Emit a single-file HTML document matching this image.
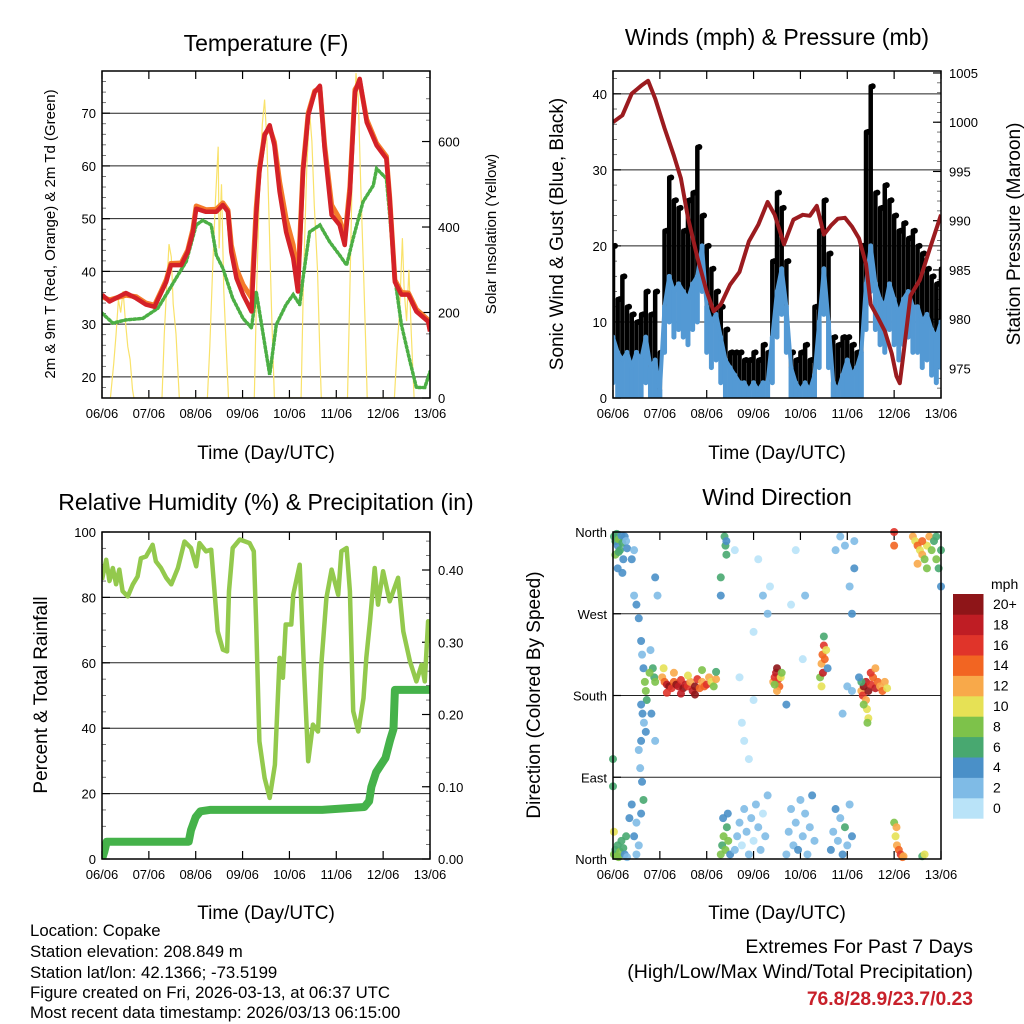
<!DOCTYPE html>
<html><head><meta charset="utf-8"><style>
html,body{margin:0;padding:0;background:#fff;}
svg{display:block;font-family:"Liberation Sans",Arial,sans-serif;}
</style></head><body>
<svg id="fig" width="1024" height="1024" viewBox="0 0 1024 1024" xmlns="http://www.w3.org/2000/svg">
<rect x="0" y="0" width="1024" height="1024" fill="#fff"/>
<text x="266" y="51" font-size="23" text-anchor="middle">Temperature (F)</text>
<text x="777" y="45" font-size="23" text-anchor="middle">Winds (mph) &amp; Pressure (mb)</text>
<text x="266" y="510" font-size="23" text-anchor="middle">Relative Humidity (%) &amp; Precipitation (in)</text>
<text x="777" y="505" font-size="23" text-anchor="middle">Wind Direction</text>
<text x="266" y="459" font-size="19" text-anchor="middle">Time (Day/UTC)</text>
<text x="777" y="459" font-size="19" text-anchor="middle">Time (Day/UTC)</text>
<text x="266" y="919" font-size="19" text-anchor="middle">Time (Day/UTC)</text>
<text x="777" y="919" font-size="19" text-anchor="middle">Time (Day/UTC)</text>
<text transform="translate(55,234) rotate(-90)" font-size="15" text-anchor="middle">2m &amp; 9m T (Red, Orange) &amp; 2m Td (Green)</text>
<text transform="translate(496,234) rotate(-90)" font-size="15" text-anchor="middle">Solar Insolation (Yellow)</text>
<text transform="translate(563,234) rotate(-90)" font-size="19" text-anchor="middle">Sonic Wind &amp; Gust (Blue, Black)</text>
<text transform="translate(1020,234) rotate(-90)" font-size="19" text-anchor="middle">Station Pressure (Maroon)</text>
<text transform="translate(47,695) rotate(-90)" font-size="19" text-anchor="middle">Percent &amp; Total Rainfall</text>
<text transform="translate(540,695) rotate(-90)" font-size="19" text-anchor="middle">Direction (Colored By Speed)</text>
<g font-size="16.8">
<text x="30" y="936">Location: Copake</text>
<text x="30" y="957">Station elevation: 208.849 m</text>
<text x="30" y="978">Station lat/lon: 42.1366; -73.5199</text>
<text x="30" y="998">Figure created on Fri, 2026-03-13, at 06:37 UTC</text>
<text x="30" y="1018">Most recent data timestamp: 2026/03/13 06:15:00</text>
</g>
<g text-anchor="end">
<text x="973" y="953" font-size="19.5">Extremes For Past 7 Days</text>
<text x="973" y="978" font-size="19.5">(High/Low/Max Wind/Total Precipitation)</text>
<text x="973" y="1005" font-size="19.3" fill="#c8202a" font-weight="bold">76.8/28.9/23.7/0.23</text>
</g>
</svg>
<script>
// ---------- data ----------
const dayLabels = ["06/06","07/06","08/06","09/06","10/06","11/06","12/06","13/06"];
const tempTimes = [0,0.16,0.51,0.73,0.94,1.12,1.26,1.37,1.47,1.69,1.83,1.94,2.01,2.22,2.44,2.58,2.69,2.76,2.87,3.01,3.19,3.29,3.36,3.47,3.58,3.68,3.79,3.93,4.08,4.18,4.29,4.40,4.54,4.65,4.75,4.90,5.07,5.18,5.29,5.40,5.50,5.65,5.86,6.07,6.14,6.25,6.39,6.54,6.71,6.96,7.0];
const tempRed = [35.6,34.3,35.9,34.9,33.7,33.3,35.9,38,41.2,41.2,43.7,47.5,51.9,51.3,51.3,52.6,51.3,43.7,38.7,35.6,32.4,50.7,58.9,65.8,67.7,63.9,55.1,47.5,42.5,36.2,58.9,69.6,74,75.2,63.3,50.7,48.8,45,55.1,74,76.5,68.3,63.9,61.4,53.8,38,35.6,35.6,32.4,30.5,28.6];
const tempOrange = [35.2,34.6,35.5,35.2,34,33.6,36.2,38.4,41.5,41.6,44,48,52.4,51.7,51.8,53,51.6,45,40.5,37.5,35,52,59.5,66,67.2,64.5,57,50,45,38,59.5,70,74.2,74.8,64,52.6,50,46,56,74.5,76,68.8,64.3,61.8,54,38.4,36,35.9,32.8,30.8,29];
const dewTimes = [0,0.23,0.51,0.87,1.19,1.37,1.58,1.8,2.01,2.15,2.33,2.44,2.58,2.79,3.01,3.19,3.29,3.43,3.58,3.72,3.93,4.08,4.22,4.29,4.43,4.65,4.86,5.07,5.22,5.36,5.57,5.79,5.86,6.07,6.14,6.25,6.39,6.57,6.71,6.89,7.0];
const dewGreen = [32.1,30.2,30.8,31.1,33,35.6,38.7,41.9,48.8,49.7,48.8,43.1,40.6,34.9,31.1,29.3,36.2,28.6,20.4,29.9,33.7,35.6,33.7,38.7,47.5,48.8,45.6,43.1,41.2,46.3,53.2,56.3,59.5,57.6,50.7,38.7,29.9,23,18,18,21];
const solarTimes = [0.18,0.25,0.3,0.35,0.4,0.45,0.5,0.55,0.6,0.65,0.68, 1.28,1.33,1.38,1.43,1.48,1.52,1.58,1.65, 2.25,2.3,2.36,2.42,2.48,2.5,2.55,2.6,2.65,2.7, 3.25,3.3,3.36,3.42,3.47,3.52,3.57,3.62,3.68, 4.25,4.3,4.37,4.43,4.48,4.53,4.6,4.65,4.68, 5.24,5.3,5.35,5.42,5.47,5.52,5.58,5.63,5.66, 6.24,6.3,6.35,6.41,6.45,6.5,6.55,6.6,6.66];
const solarValues = [0,80,150,230,200,250,180,120,90,20,0, 0,150,260,360,330,220,150,0, 0,120,300,460,588,350,500,250,120,0, 0,250,480,640,698,600,400,200,0, 0,280,540,670,600,450,300,100,0, 0,300,580,760,700,500,300,120,0, 0,120,200,374,250,180,300,150,0];

const windSpeed = [8,6,5,6,4,6,5,8,4,5,1, 12,16,14,15,14,13,15,16,20,12, 10,11,8,5,4,3,2,2,1,2, 1,2,2,8,14,17,12,4,2,1, 2,1,3,10,17,10,2,1,3,5, 3,4,6,15,20,15,13,12,15,13, 11,13,14,12,12,10,11,9,8,10];
const windGust = [20,13,16,12,11,10,11,14,11,14,6, 22,29,26,25,22,26,27,33,24,20, 17,14,12,9,6,6,6,5,5,6, 5,7,6,18,27,25,18,6,5,6, 7,5,12,22,26,19,8,7,8,8, 7,6,20,35,41,27,25,28,26,24, 22,23,21,22,20,19,17,16,15,17];
const presTimes = [0,0.2,0.4,0.6,0.75,0.9,1.1,1.3,1.45,1.6,1.8,2.0,2.15,2.3,2.5,2.7,2.9,3.1,3.3,3.45,3.65,3.85,4.05,4.2,4.35,4.5,4.65,4.8,4.95,5.1,5.25,5.4,5.5,5.65,5.8,5.95,6.05,6.12,6.2,6.35,6.55,6.75,7.0];
const presValues = [1000,1000.7,1002.9,1003.7,1004.2,1002.4,999.4,996.6,994.3,990.3,986.3,982.8,980.8,981.5,983.5,984.8,987.9,989.6,991.9,990.6,987.6,990.1,990.6,990.5,991.5,988.6,989.5,990.2,990.3,989.4,988.2,985.6,981.5,980.2,978.8,976.5,974.2,973.5,976.5,982.4,984,987,990.6];

const rhTimes = [0,0.09,0.16,0.23,0.3,0.37,0.44,0.55,0.66,0.76,0.83,0.94,1.08,1.15,1.26,1.37,1.48,1.62,1.76,1.9,2.01,2.08,2.22,2.33,2.4,2.47,2.58,2.67,2.71,2.79,2.94,3.15,3.24,3.29,3.36,3.47,3.58,3.69,3.79,3.86,3.92,4.04,4.08,4.22,4.3,4.4,4.5,4.61,4.68,4.79,4.9,5.04,5.11,5.22,5.29,5.36,5.47,5.58,5.64,5.72,5.82,5.89,6.0,6.14,6.32,6.43,6.57,6.71,6.82,6.89,6.96,7.0];
const rhValues = [85.4,91.5,85,89,84,88.5,81.9,80.3,84,86.4,92,92.5,96.1,91,89,86,84,89,97.1,95.1,89.5,96.6,94.1,94.6,81.9,69.6,64,63.5,81.9,95.1,97.7,96.6,94.1,71.7,36,24.8,18.7,28.8,61.5,55.4,71.7,71.7,80.8,90,61.5,29.9,41.1,39,59.4,79.8,88.5,80.8,94.1,95.1,81.9,45.2,39,49.2,61.5,72.7,89,77.8,88,78.8,86,69.6,60.5,54.3,59.4,54.3,72.7,66];
const rainTimes = [0,0.05,0.1,1.85,1.9,2.0,2.1,2.3,4.7,5.6,5.7,5.75,5.85,5.95,6.05,6.15,6.22,6.25,7.0];
const rainValues = [0,0.01,0.024,0.024,0.04,0.058,0.066,0.068,0.068,0.072,0.08,0.1,0.12,0.13,0.14,0.165,0.18,0.234,0.234];

const dirTimes = [0.02,0.05,0.08,0.1,0.12,0.15,0.18,0.2,0.22,0.25,0.28,0.05,0.12,0.3,0.1,0.2,
0.02,0.05,0.08,0.1,0.12,0.15,0.18,0.22,0.25,0.28,0.3,0.02,0.0,0.0,0.35,0.4,
0.45,0.5,0.55,0.6,0.62,0.65,0.68,0.7,0.72,0.6,0.63,0.66,0.7,0.6,0.55,0.58,0.62,0.65,0.6,0.5,0.45,0.55,0.5,0.8,0.85,0.88,0.9,0.78,0.82,0.9,0.95,0.9,0.4,0.45,
1.05,1.1,1.15,1.2,1.25,1.3,1.35,1.4,1.45,1.5,1.55,1.6,1.65,1.7,1.75,1.8,1.85,1.9,1.95,2.0,2.05,2.1,2.15,2.2,1.08,1.3,1.6,1.9,2.2,1.15,1.45,1.75,
2.3,2.33,2.36,2.4,2.43,2.46,2.5,2.35,2.45,2.38,2.4,2.42,2.3,2.3,2.42,
2.6,2.65,2.7,2.75,2.8,2.85,2.9,2.95,3.0,3.05,3.1,3.15,3.2,3.25,3.3,2.7,2.8,2.9,3.0,3.1,2.6,3.2,3.3,3.35,2.75,3.0,
3.42,3.45,3.48,3.5,3.53,3.55,3.58,3.6,3.5,3.45,
3.7,3.75,3.8,3.85,3.9,3.95,4.0,4.05,4.1,4.15,4.2,4.25,4.3,3.8,3.9,4.1,4.05,3.7,
4.42,4.45,4.47,4.5,4.48,4.52,4.55,4.45,4.5,4.58,
4.65,4.7,4.75,4.8,4.85,4.9,4.95,5.0,5.05,5.1,4.75,4.85,4.95,5.05,5.1,5.15,5.15,4.9,5.0,5.1,
5.3,5.33,5.35,5.4,5.45,5.5,5.55,5.6,5.65,5.7,5.75,5.8,5.85,5.4,5.42,5.45,5.43,5.35,5.5,5.6,5.3,5.25,
6.0,6.03,6.06,6.1,6.14,6.18,6.05,6.2,6.6,6.65,
6.4,6.45,6.5,6.55,6.6,6.65,6.7,6.75,6.8,6.85,6.9,6.95,7.0,6.5,6.6,6.7,6.9,7.0,6.0,6.0];
const dirDegrees = [355,350,358,345,352,340,356,348,330,355,350,335,338,342,320,315,
5,10,3,15,2,8,20,12,5,25,2,30,80,110,45,60,
290,280,265,240,225,210,195,185,175,170,160,150,140,130,120,100,85,65,50,40,25,15,5,230,210,200,195,205,160,130,290,310,330,340,
200,195,192,190,188,195,192,190,197,188,192,190,195,185,190,198,188,195,190,192,200,195,190,198,210,205,202,208,206,183,182,181,
5,15,25,10,35,20,5,45,50,355,345,335,310,290,350,
10,25,40,15,55,30,5,45,20,60,35,10,50,25,70,200,130,110,250,330,340,290,270,300,150,175,
195,200,205,210,198,190,200,205,185,192,
5,30,55,15,40,10,65,25,50,5,35,70,20,280,340,290,220,170,
200,215,225,235,205,220,230,190,245,210,
10,30,55,20,45,5,35,15,60,25,340,355,345,300,270,350,320,160,190,185,
185,180,190,195,185,192,200,188,195,190,185,195,188,175,165,155,150,170,205,210,195,200,
40,25,15,10,5,2,35,3,3,5,
355,350,345,340,335,330,345,355,340,350,330,320,300,325,350,320,355,340,360,345];
const dirSpeeds = [6,7,6,5,8,6,4,7,5,4,3,8,6,4,4,5,
8,7,8,6,9,8,7,6,4,6,3,10,7,6,4,4,
3,4,5,4,3,5,9,8,6,4,4,3,4,4,3,3,4,6,4,3,4,3,3,2,6,7,8,8,4,3,2,4,4,2,
12,14,18,20,16,14,20,18,16,20,18,16,12,18,20,16,14,12,14,16,12,10,8,12,10,12,10,8,6,16,18,20,
8,7,9,8,6,8,4,5,4,7,6,6,6,5,4,
2,3,2,1,3,2,3,2,1,2,3,2,1,2,3,1,1,1,1,1,1,2,3,1,1,1,
12,16,18,20,16,14,10,8,12,8,
2,3,2,2,3,4,2,3,2,3,2,4,2,1,1,2,1,4,
8,12,14,16,18,14,10,10,6,4,
4,3,4,2,3,4,6,3,2,4,2,3,2,3,4,3,4,2,3,2,
12,16,20,18,20,16,14,18,14,12,14,12,10,12,10,10,9,8,16,12,6,4,
8,10,12,14,16,14,12,12,6,10,
12,10,14,10,12,8,10,12,8,6,8,6,4,12,14,8,6,6,16,14];
const speedBins = ["0","2","4","6","8","10","12","14","16","18","20+"];
const speedColors = ["#b9e3f8","#7fbbe6","#4a90c8","#48a870","#7dc24a","#e6e155","#f8a94a","#f26522","#e0342a","#bf1d24","#8e1518"];

// ---------- helpers ----------
const NS = "http://www.w3.org/2000/svg";
const svg = document.getElementById("fig");
function mk(tag, name, attrs, parent) {
  const el = document.createElementNS(NS, tag);
  
  
  for (const k in attrs) el.setAttribute(k, attrs[k]);
  (parent || svg).appendChild(el);
  return el;
}
function scale(d0, d1, r0, r1) { return v => r0 + (v - d0) / (d1 - d0) * (r1 - r0); }
function pathFrom(xs, ys, fx, fy) {
  let d = "";
  for (let i = 0; i < xs.length; i++) d += (i ? "L" : "M") + fx(xs[i]).toFixed(1) + "," + fy(ys[i]).toFixed(1);
  return d;
}
function frame(P, prefix) {
  const g = mk("g", prefix + "-axes", {});
  for (let i = 0; i < dayLabels.length; i++) {
    const x = P.x(i);
    mk("line", prefix + "-x-tick", {x1:x, x2:x, y1:P.y1, y2:P.y1-8, stroke:"#000","stroke-width":1.2}, g);
    mk("line", prefix + "-x-tick-top", {x1:x, x2:x, y1:P.y0, y2:P.y0+8, stroke:"#000","stroke-width":1.2}, g);
    const t = mk("text", prefix + "-x-tick-label", {x:x, y:P.y1+20, "font-size":13, "text-anchor":"middle"}, g);
    t.textContent = dayLabels[i];
  }
  return g;
}
function yAxis(P, g, prefix, ticks, labels, fy, side, minors, grid) {
  const xEdge = side === "left" ? P.x0 : P.x1;
  const dir = side === "left" ? 1 : -1;
  for (const m of minors) {
    const y = fy(m);
    if (y < P.y0 - 0.5 || y > P.y1 + 0.5) continue;
    mk("line", prefix + "-minor-tick", {x1:xEdge, x2:xEdge + dir*4, y1:y, y2:y, stroke:"#555","stroke-width":0.8}, g);
  }
  for (let i = 0; i < ticks.length; i++) {
    const y = fy(ticks[i]);
    if (grid && y > P.y0 + 1 && y < P.y1 - 1) mk("line", prefix + "-gridline", {x1:P.x0, x2:P.x1, y1:y, y2:y, stroke:"#222","stroke-width":1}, g);
    mk("line", prefix + "-tick", {x1:xEdge, x2:xEdge + dir*8, y1:y, y2:y, stroke:"#000","stroke-width":1.2}, g);
    const t = mk("text", prefix + "-tick-label", {x: side === "left" ? P.x0 - 6 : P.x1 + 8, y:y+5, "font-size":13, "text-anchor": side === "left" ? "end" : "start"}, g);
    t.textContent = labels[i];
  }
}
function border(P, prefix) {
  mk("rect", prefix + "-plot-border", {x:P.x0, y:P.y0, width:P.x1-P.x0, height:P.y1-P.y0, fill:"none", stroke:"#000","stroke-width":1.5});
}
function range(a, b, s) { const r = []; for (let v = a; v <= b + 1e-9; v += s) r.push(+v.toFixed(4)); return r; }

// ---------- Panel 1: Temperature ----------
(function(){
  const P = {x0:102, x1:430, y0:71, y1:398};
  P.x = scale(0, 7, P.x0, P.x1);
  const yT = scale(16, 78, P.y1, P.y0);
  const yS = scale(0, 765, P.y1, P.y0);
  const g = frame(P, "temp");
  yAxis(P, g, "temp-left", [20,30,40,50,60,70], ["20","30","40","50","60","70"], yT, "left", range(16,78,2), true);
  yAxis(P, g, "solar-right", [0,200,400,600], ["0","200","400","600"], yS, "right", range(0,750,50), false);
  const clip = mk("clipPath", "temp-clip", {id:"c1"});
  mk("rect", "temp-clip-rect", {x:P.x0, y:P.y0, width:P.x1-P.x0, height:P.y1-P.y0}, clip);
  const d = mk("g", "temp-series", {"clip-path":"url(#c1)"});
  mk("path", "solar-line", {d:pathFrom(solarTimes, solarValues, P.x, yS), fill:"none", stroke:"#f9e26a","stroke-width":1.2}, d);
  mk("path", "dewpoint-line", {d:pathFrom(dewTimes, dewGreen, P.x, yT), fill:"none", stroke:"#4caf45","stroke-width":3.5,"stroke-dasharray":"2 2.5","stroke-linecap":"round"}, d);
  mk("path", "temp-9m-line", {d:pathFrom(tempTimes, tempOrange, P.x, yT), fill:"none", stroke:"#f47b2a","stroke-width":5,"stroke-linejoin":"round"}, d);
  mk("path", "temp-2m-line", {d:pathFrom(tempTimes, tempRed, P.x, yT), fill:"none", stroke:"#d42128","stroke-width":4.5,"stroke-linejoin":"round"}, d);
  border(P, "temp");
})();

// ---------- Panel 2: Winds & Pressure ----------
(function(){
  const P = {x0:613, x1:941, y0:71, y1:398};
  P.x = scale(0, 7, P.x0, P.x1);
  const yW = scale(0, 43, P.y1, P.y0);
  const yP = scale(972, 1005.2, P.y1, P.y0);
  const g = frame(P, "winds");
  yAxis(P, g, "wind-left", [0,10,20,30,40], ["0","10","20","30","40"], yW, "left", range(0,42,2), true);
  yAxis(P, g, "pressure-right", [975,980,985,990,995,1000,1005], ["975","980","985","990","995","1000","1005"], yP, "right", range(972,1005,1), false);
  const clip = mk("clipPath", "winds-clip", {id:"c2"});
  mk("rect", "winds-clip-rect", {x:P.x0, y:P.y0, width:P.x1-P.x0, height:P.y1-P.y0}, clip);
  const d = mk("g", "winds-series", {"clip-path":"url(#c2)"});
  for (let i = 0; i < windGust.length; i++) {
    const x = P.x(i * 0.1);
    mk("line", "gust-bar", {x1:x, x2:x, y1:yW(windSpeed[i]), y2:yW(windGust[i]), stroke:"#000","stroke-width":4.5,"stroke-linecap":"round"}, d);
    mk("circle", "gust-point", {cx:x + 2, cy:yW(windGust[i]), r:3, fill:"#000"}, d);
  }
  for (let i = 0; i < windGust.length; i++) {
    const x = P.x(i * 0.1);
    mk("line", "wind-bar", {x1:x, x2:x, y1:yW(Math.max(0, windSpeed[i] - 6)), y2:yW(windSpeed[i]), stroke:"#5399d4","stroke-width":5,"stroke-linecap":"round"}, d);
  }
  const wt = windSpeed.map((v, i) => i * 0.1);
  mk("path", "wind-line", {d:pathFrom(wt, windSpeed, P.x, yW), fill:"none", stroke:"#5399d4","stroke-width":4,"stroke-linejoin":"round"}, d);
  mk("path", "pressure-line", {d:pathFrom(presTimes, presValues, P.x, yP), fill:"none", stroke:"#9b1b1f","stroke-width":4,"stroke-linejoin":"round"}, d);
  border(P, "winds");
})();

// ---------- Panel 3: Humidity & Precip ----------
(function(){
  const P = {x0:102, x1:430, y0:532, y1:859};
  P.x = scale(0, 7, P.x0, P.x1);
  const yH = scale(0, 100, P.y1, P.y0);
  const yR = scale(0, 0.4526, P.y1, P.y0);
  const g = frame(P, "humidity");
  yAxis(P, g, "humidity-left", [0,20,40,60,80,100], ["0","20","40","60","80","100"], yH, "left", range(0,100,5), true);
  yAxis(P, g, "rain-right", [0,0.1,0.2,0.3,0.4], ["0.00","0.10","0.20","0.30","0.40"], yR, "right", range(0,0.45,0.02), false);
  const clip = mk("clipPath", "humidity-clip", {id:"c3"});
  mk("rect", "humidity-clip-rect", {x:P.x0, y:P.y0, width:P.x1-P.x0, height:P.y1-P.y0}, clip);
  const d = mk("g", "humidity-series", {"clip-path":"url(#c3)"});
  mk("path", "humidity-line", {d:pathFrom(rhTimes, rhValues, P.x, yH), fill:"none", stroke:"#93c94d","stroke-width":4.5,"stroke-linejoin":"round"}, d);
  mk("path", "rainfall-line", {d:pathFrom(rainTimes, rainValues, P.x, yR), fill:"none", stroke:"#45b24a","stroke-width":8,"stroke-linejoin":"round","stroke-linecap":"round"}, d);
  border(P, "humidity");
})();

// ---------- Panel 4: Wind Direction ----------
(function(){
  const P = {x0:613, x1:941, y0:532, y1:859};
  P.x = scale(0, 7, P.x0, P.x1);
  const yD = scale(0, 360, P.y1, P.y0);
  const g = frame(P, "direction");
  yAxis(P, g, "direction-left", [0,90,180,270,360], ["North","East","South","West","North"], yD, "left", [], true);
  const clip = mk("clipPath", "direction-clip", {id:"c4"});
  mk("rect", "direction-clip-rect", {x:P.x0-4, y:P.y0-4, width:P.x1-P.x0+8, height:P.y1-P.y0+8}, clip);
  const d = mk("g", "direction-points", {"clip-path":"url(#c4)"});
  for (let i = 0; i < dirTimes.length; i++) {
    const bin = Math.min(10, Math.floor(dirSpeeds[i] / 2));
    mk("circle", "direction-point", {cx:P.x(dirTimes[i]), cy:yD(dirDegrees[i]), r:4, fill:speedColors[bin], "fill-opacity":0.9}, d);
  }
  border(P, "direction");
  const cb = mk("g", "speed-colorbar", {});
  const t0 = mk("text", "colorbar-unit-label", {x:991, y:589, "font-size":14}, cb);
  t0.textContent = "mph";
  const boxH = 20.4;
  for (let i = 0; i < speedBins.length; i++) {
    const y = 594 + (10 - i) * boxH;
    mk("rect", "colorbar-swatch", {x:953, y:y, width:30.5, height:boxH + 0.3, fill:speedColors[i]}, cb);
    const t = mk("text", "colorbar-label", {x:993, y:y + 15, "font-size":14}, cb);
    t.textContent = speedBins[i];
  }
})();
</script>
</body></html>
